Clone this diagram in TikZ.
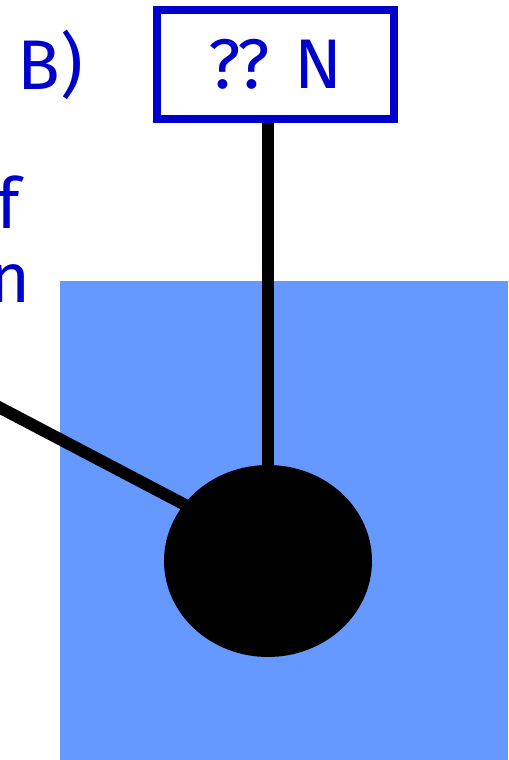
\documentclass[tikz,border=0pt]{standalone}
\usepackage{fontspec}
\setmainfont{Fira Sans}
\usepackage{xcolor}
\usepackage{tikz}
\usetikzlibrary{positioning, calc, shapes.geometric}
\definecolor{LoadBlue}{HTML}{0000CC}
\definecolor{WaterBlue}{HTML}{6699FF}

\begin{document}
\begin{tikzpicture}[x=0.02cm, y=-0.02cm, font=\fontsize{40}{48}\selectfont,
  rope/.style={line width=0.24cm, black},
  scalebox/.style={draw=LoadBlue, line width=0.16cm, text=LoadBlue, fill=white,
    minimum width=4.74cm, minimum height=2.18cm, inner sep=0pt}]
  \useasboundingbox (0,0) rectangle (508,760);
  \fill[WaterBlue] (60,281) rectangle (508,760);
  \node[text=LoadBlue, anchor=base west, inner sep=0pt] (tag) at (17,90) {B)};
  \node[text=LoadBlue, anchor=base east, inner sep=0pt] (wordA) at (20,228) {f};
  \node[text=LoadBlue, anchor=base east, inner sep=0pt] (wordB) at (31,302) {n};
  \node[scalebox] (gauge) at (275.5,64.5) {?? N};
  \node[ellipse, fill=black, minimum width=4.16cm, minimum height=3.84cm, inner sep=0pt] (ball) at (268,561) {};
  \coordinate (pull) at (-30,392);
  \draw[rope] (ball.north |- gauge.south) -- ([yshift=-0.2cm]ball.north);
  \draw[rope, shorten >=-0.25cm] (pull) -- (ball.146);
\end{tikzpicture}
\end{document}
